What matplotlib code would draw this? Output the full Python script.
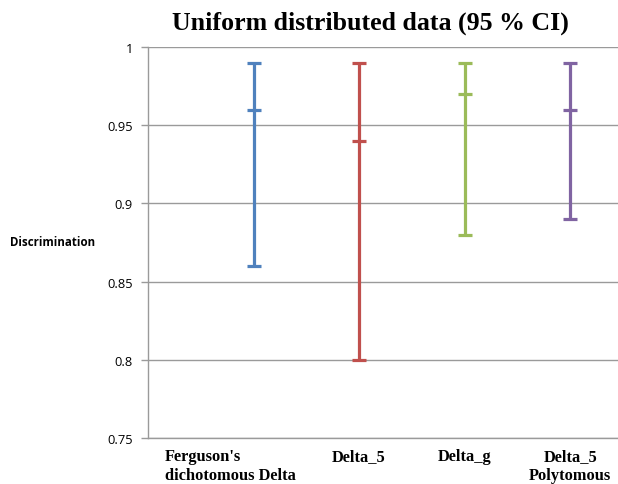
import numpy as np
import matplotlib
matplotlib.use("Agg")
import matplotlib.pyplot as plt

# Discrimination intervals for each method
methods = ["Ferguson's\ndichotomous Delta", "Delta_5", "Delta_g", "Delta_5\nPolytomous"]
low = [0.86, 0.80, 0.88, 0.89]
mid = [0.96, 0.94, 0.97, 0.96]
high = [0.99, 0.99, 0.99, 0.99]
colors = ["#4F81BD", "#C0504D", "#9BBB59", "#8064A2"]

yticks = [0.75, 0.8, 0.85, 0.9, 0.95, 1.0]
ytick_labels = ["0.75", "0.8", "0.85", "0.9", "0.95", "1"]

fig = plt.figure(figsize=(6.18, 4.85), dpi=100)
ax = fig.add_axes([0.2395, 0.095, 0.765, 0.806])

pos = np.arange(1, len(methods) + 1)
for x, lo, m, hi, c in zip(pos, low, mid, high, colors):
    ax.errorbar([x], [m], yerr=[[m - lo], [hi - m]], fmt="none", ecolor=c,
                elinewidth=2.3, capsize=5, capthick=2.3, zorder=3)
    ax.plot([x], [m], marker="_", markersize=10, mew=2.3, color=c, zorder=3)

ax.set_xlim(0, 4.48)
ax.set_ylim(0.75, 1.0)
ax.set_yticks(yticks)
ax.set_yticklabels(ytick_labels, fontsize=9.3, family="Open Sans")
ax.yaxis.grid(True, color="#9a9a9a", linewidth=1)
ax.set_axisbelow(True)
ax.tick_params(axis="y", length=5, width=1, color="#9a9a9a", pad=6)
ax.set_xticks([])

for side in ["top", "right"]:
    ax.spines[side].set_visible(False)
for side in ["left", "bottom"]:
    ax.spines[side].set_color("#9a9a9a")
    ax.spines[side].set_linewidth(1)

# category labels under the axis
aligns = ["left", "center", "center", "center"]
offsets = [-0.84, 0.0, 0.0, 0.0]
for x, name, ha, off in zip(pos, methods, aligns, offsets):
    ax.text(x + off, 0.7435, name, ha=ha, va="top", multialignment=ha,
            fontsize=11.8, fontweight="bold", family="Liberation Serif",
            linespacing=1.25)

fig.text(0.016, 0.499, "Discrimination", fontsize=8.3, fontweight="bold",
         family="Open Sans", va="center", ha="left")

fig.text(0.599, 0.951, "Uniform distributed data (95 % CI)", fontsize=18.6,
         fontweight="bold", family="Liberation Serif", ha="center", va="center")

fig.savefig("out.png", dpi=100)
